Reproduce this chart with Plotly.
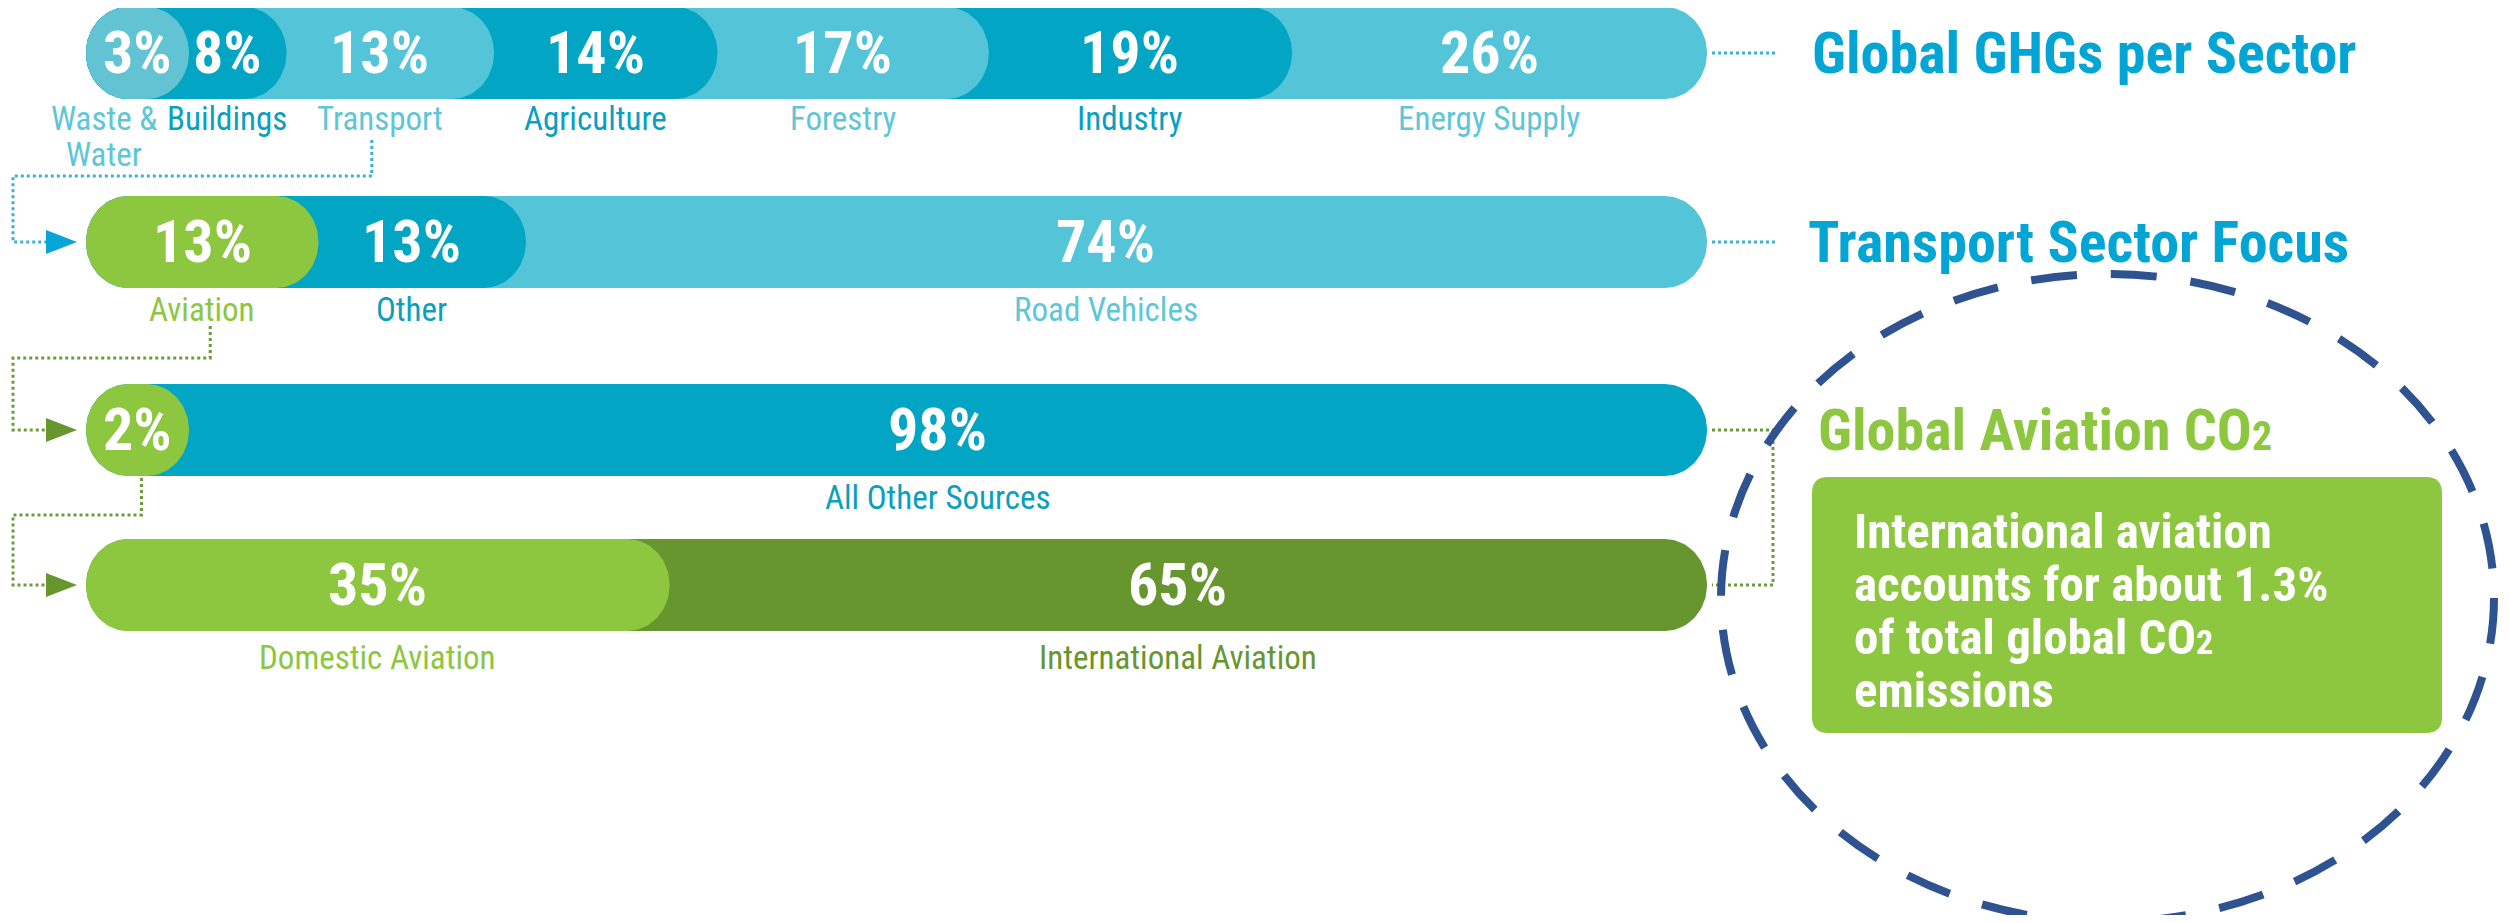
import numpy as np
import plotly.graph_objects as go

PAGE_W, PAGE_H = 2509, 923
OFF = 8                                  # default body margin of the html page
FIG_W, FIG_H = PAGE_W - 2 * OFF, PAGE_H - 2 * OFF

# ---------------- data ----------------
ghg_labels = ["Waste &<br>Water", "Buildings", "Transport", "Agriculture", "Forestry", "Industry", "Energy Supply"]
ghg_values = [3, 8, 13, 14, 17, 19, 26]

transport_labels = ["Aviation", "Other", "Road Vehicles"]
transport_values = [13, 13, 74]

co2_labels = ["", "All Other Sources"]
co2_values = [2, 98]

aviation_labels = ["Domestic Aviation", "International Aviation"]
aviation_values = [35, 65]

titles = ["Global GHGs per Sector", "Transport Sector Focus",
          "Global Aviation CO<span style='font-size:40px'>2</span>"]
note_lines = ["International aviation", "accounts for about 1.3%",
              "of total global CO<span style='font-size:34px'>2</span>", "emissions"]

# ---------------- style ----------------
FONT = "Liberation Sans Narrow, Roboto Condensed, Arial Narrow, DejaVu Sans Condensed, sans-serif"
LIGHT = "#54C5D8"
DARK = "#02A6C4"
WASTE = "#62C4D3"
GREEN = "#8DC63F"
DGREEN = "#67962F"
BLUE_T = "#03A5D4"
NAVY = "#2F5290"
LBL_LIGHT = "#5EC6D7"
LBL_DARK = "#0A9FBF"

# page-pixel layout of the bars
L, R, PAD = 86, 1707, 25
W = (R - L - PAD) / 100.0          # px per percent
RY, RX, MINW = 46, 42, 103
PCT_SIZE, LBL_SIZE, TITLE_SIZE, NOTE_SIZE = 60, 33, 58, 49
LINE_GAP = 36


def v_of(px):
    return (px - L - PAD) / W


def px_of(v):
    return L + PAD + v * W


rows = [
    dict(vals=ghg_values, labels=ghg_labels, yc=53, ly=118,
         colors=[WASTE, DARK, LIGHT, DARK, LIGHT, DARK, LIGHT],
         lcolors=[LBL_LIGHT, LBL_DARK, LBL_LIGHT, LBL_DARK, LBL_LIGHT, LBL_DARK, LBL_LIGHT]),
    dict(vals=transport_values, labels=transport_labels, yc=242, ly=309,
         colors=[GREEN, DARK, LIGHT], lcolors=[GREEN, LBL_DARK, LBL_LIGHT]),
    dict(vals=co2_values, labels=co2_labels, yc=430, ly=497,
         colors=[GREEN, DARK], lcolors=[GREEN, LBL_DARK]),
    dict(vals=aviation_values, labels=aviation_labels, yc=585, ly=657,
         colors=[GREEN, DGREEN], lcolors=[GREEN, DGREEN]),
]

fig = go.Figure()
annotations = []
label_x = {}


def pill(v_end, yc):
    v_left = v_of(L)
    v_end = max(v_end, v_left + MINW / W)
    r = min(RX, (v_end - v_left) * W / 2) / W
    t = np.linspace(-np.pi / 2, np.pi / 2, 48)
    xr = (v_end - r) + r * np.cos(t)
    yr = yc + RY * np.sin(t)
    xl = (v_left + r) - r * np.cos(t)
    yl = yc - RY * np.sin(t)
    xs = np.concatenate([xr, xl, xr[:1]])
    ys = np.concatenate([yr, yl, yr[:1]])
    return xs, ys, v_end


for ri, row in enumerate(rows):
    cum = np.cumsum(row["vals"])
    pills = {}
    for i in range(len(cum))[::-1]:          # largest first, smaller on top
        xs, ys, ve = pill(cum[i], row["yc"])
        pills[i] = ve
        fig.add_trace(go.Scatter(x=xs, y=ys, mode="lines", fill="toself",
                                 fillcolor=row["colors"][i], line=dict(width=0),
                                 hoverinfo="skip", showlegend=False))
    for i in range(len(cum)):
        if i == 0:
            xc = (v_of(L) + pills[0]) / 2
        else:
            # centre of the visible part of the segment
            xc = (pills[i - 1] + pills[i]) / 2 - (RX / 4) / W
        label_x[(ri, i)] = xc
        annotations.append(dict(x=xc, y=row["yc"] - 1, xref="x", yref="y",
                                text=f"<b>{row['vals'][i]}%</b>", showarrow=False,
                                font=dict(family=FONT, size=PCT_SIZE, color="white"),
                                xanchor="center", yanchor="middle"))
        if row["labels"][i]:
            lines = row["labels"][i].split("<br>")
            lx = xc - (34 / W if (i == 0 and len(lines) > 1) else 0)
            for k, ln in enumerate(lines):
                annotations.append(dict(x=lx, y=row["ly"] + LINE_GAP * k, xref="x", yref="y",
                                        text=ln, showarrow=False,
                                        font=dict(family=FONT, size=LBL_SIZE, color=row["lcolors"][i]),
                                        xanchor="center", yanchor="middle"))


def P(px):
    return (px - OFF) / FIG_W


shapes = []


def dotted(points, color):
    path = "M " + " L ".join(f"{P(x)},{y}" for x, y in points)
    shapes.append(dict(type="path", path=path, xref="paper", yref="y",
                       line=dict(color=color, width=3, dash="dot")))


def arrow(yc, color):
    path = f"M {P(46)},{yc-12} L {P(77)},{yc} L {P(46)},{yc+12} Z"
    shapes.append(dict(type="path", path=path, xref="paper", yref="y",
                       fillcolor=color, line=dict(width=0)))


DOT_BLUE = "#3AB1D8"
DOT_GREEN = "#6E9A3A"
xT = px_of(label_x[(0, 2)]) - 8
xA = px_of(label_x[(1, 0)]) + 8
xC = px_of(label_x[(2, 0)]) + 4
dotted([(xT, 140), (xT, 176), (13, 176), (13, 242), (46, 242)], DOT_BLUE)
arrow(242, "#0AA5D8")
dotted([(xA, 326), (xA, 358), (13, 358), (13, 430), (46, 430)], DOT_GREEN)
arrow(430, DGREEN)
dotted([(xC, 478), (xC, 515), (13, 515), (13, 585), (46, 585)], DOT_GREEN)
arrow(585, DGREEN)
dotted([(R + 5, 53), (1776, 53)], DOT_BLUE)
dotted([(R + 5, 242), (1776, 242)], DOT_BLUE)
dotted([(R + 5, 430), (1773, 430), (1773, 585), (R + 5, 585)], DOT_GREEN)

# green note box (rounded)
bx0, bx1, by0, by1, rr = 1812, 2442, 477, 733, 16
box = (f"M {P(bx0+rr)},{by0} L {P(bx1-rr)},{by0} Q {P(bx1)},{by0} {P(bx1)},{by0+rr} "
       f"L {P(bx1)},{by1-rr} Q {P(bx1)},{by1} {P(bx1-rr)},{by1} L {P(bx0+rr)},{by1} "
       f"Q {P(bx0)},{by1} {P(bx0)},{by1-rr} L {P(bx0)},{by0+rr} Q {P(bx0)},{by0} {P(bx0+rr)},{by0} Z")
shapes.append(dict(type="path", path=box, xref="paper", yref="y",
                   fillcolor=GREEN, line=dict(width=0), layer="below"))

# dashed ellipse
shapes.append(dict(type="circle", xref="paper", yref="y",
                   x0=P(1721), x1=P(2494), y0=274, y1=922,
                   line=dict(color=NAVY, width=8, dash="46px,34px")))

# titles
for txt, yc, col, x0 in zip(titles, [53, 242, 430], [BLUE_T, BLUE_T, GREEN], [1810, 1806, 1816]):
    annotations.append(dict(x=P(x0), y=yc, xref="paper", yref="y", text=f"<b>{txt}</b>",
                            showarrow=False, xanchor="left", yanchor="middle",
                            font=dict(family=FONT, size=TITLE_SIZE, color=col)))

for k, ln in enumerate(note_lines):
    annotations.append(dict(x=P(1852), y=531 + 53 * k, xref="paper", yref="y",
                            text=f"<b>{ln}</b>", showarrow=False,
                            xanchor="left", yanchor="middle", align="left",
                            font=dict(family=FONT, size=NOTE_SIZE, color="white")))

fig.update_layout(
    width=FIG_W, height=FIG_H,
    margin=dict(l=0, r=0, t=0, b=0),
    paper_bgcolor="white", plot_bgcolor="white",
    showlegend=False,
    xaxis=dict(range=[v_of(OFF), v_of(OFF + FIG_W)], visible=False, fixedrange=True),
    yaxis=dict(range=[OFF + FIG_H, OFF], visible=False, fixedrange=True),
    shapes=shapes, annotations=annotations,
)

fig.write_html("out.html")
